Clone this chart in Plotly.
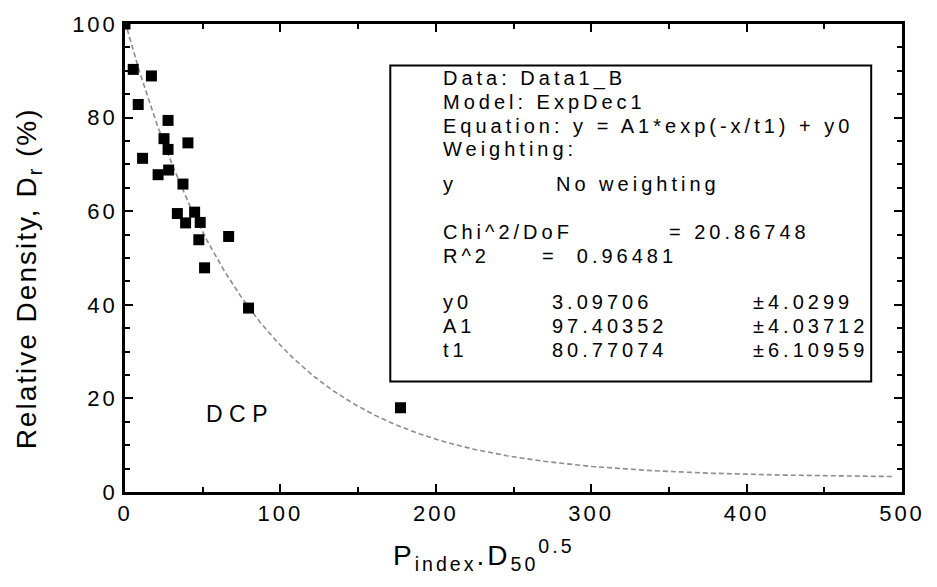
import numpy as np
import plotly.graph_objects as go

# Measured relative density against P_index * D50^0.5
p_index_d50 = [0, 5.3, 17.0, 8.5, 27.7, 25.1, 40.5, 27.7, 11.3, 28.1, 21.3, 37.3,
               33.7, 44.8, 39.0, 48.4, 47.5, 66.7, 51.2, 79.5, 177.3]
rel_density = [100, 90.3, 88.9, 82.8, 79.4, 75.5, 74.6, 73.2, 71.3, 68.8, 67.8, 65.8,
               59.5, 59.8, 57.5, 57.6, 53.9, 54.6, 47.9, 39.3, 18.0]

# ExpDec1 fit parameters
fit_y0, fit_A1, fit_t1 = 3.09706, 97.40352, 80.77074
fit_err = {"y0": "±4.0299", "A1": "±4.03712", "t1": "±6.10959"}
chi2_dof = "20.86748"
r_squared = "0.96481"

x_fit = np.linspace(0, 495, 400)
y_fit = fit_y0 + fit_A1 * np.exp(-x_fit / fit_t1)

x_ticks = [0, 100, 200, 300, 400, 500]
y_ticks = [0, 20, 40, 60, 80, 100]

FONT = "Liberation Sans, Arial, sans-serif"
W, H = 937, 587
L, R, T, B = 125, 30, 18, 95
PW, PH = W - L - R, H - T - B


def spaced(s, gap=4):
    return f'<span style="letter-spacing:{gap}px">{s}</span>'


def px(xpix):
    return (xpix - L) / PW


def py(ypix):
    return (H - B - ypix) / PH


fig = go.Figure()

fig.add_trace(go.Scatter(
    x=x_fit, y=y_fit, mode="lines",
    line=dict(color="#8c8c8c", width=1.6, dash="5px,3px"),
    hoverinfo="skip", showlegend=False,
))

fig.add_trace(go.Scatter(
    x=p_index_d50, y=rel_density, mode="markers",
    marker=dict(symbol="square", size=11, color="black"),
    showlegend=False, cliponaxis=True,
))

axis_common = dict(
    showline=True, linecolor="black", linewidth=2.5, mirror="allticks",
    ticks="inside", ticklen=8, tickwidth=2, tickcolor="black",
    showgrid=False, zeroline=False,
    tickfont=dict(family=FONT, size=22, color="black"),
)

fig.update_xaxes(
    range=[0, 500], tickmode="array", tickvals=x_ticks,
    ticktext=[spaced(str(v), 3) for v in x_ticks],
    minor=dict(dtick=50, ticks="inside", ticklen=5, tickwidth=2, tickcolor="black"),
    **axis_common,
)
fig.update_yaxes(
    range=[0, 100], tickmode="array", tickvals=y_ticks,
    ticktext=[spaced(str(v), 3) for v in y_ticks],
    minor=dict(dtick=5, ticks="inside", ticklen=5, tickwidth=2, tickcolor="black"),
    **axis_common,
)

annotations = []

# Axis titles
annotations.append(dict(
    x=px(393), y=py(556), xref="paper", yref="paper",
    text=spaced("P<sub>index</sub>.D<sub>50</sub><sup>0.5</sup>", 3),
    showarrow=False, xanchor="left", yanchor="middle",
    font=dict(family=FONT, size=28, color="black"),
))
annotations.append(dict(
    x=px(28), y=py(276), xref="paper", yref="paper",
    text=spaced("Relative Density, D<sub>r</sub> (%)", 2), textangle=-90,
    showarrow=False, xanchor="center", yanchor="middle",
    font=dict(family=FONT, size=28, color="black"),
))

# Label inside the plot
annotations.append(dict(
    x=px(205), y=py(413), xref="paper", yref="paper",
    text=spaced("DCP", 6.5), showarrow=False, xanchor="left", yanchor="middle",
    font=dict(family=FONT, size=23, color="black"),
))

# Fit report box contents: (text, x pixel, y pixel)
report = [
    ("Data: Data1_B", 443, 73),
    ("Model: ExpDec1", 443, 97),
    ("Equation: y = A1*exp(-x/t1) + y0", 443, 121),
    ("Weighting:", 443, 145),
    ("y", 443, 180),
    ("No weighting", 557, 180),
    ("Chi^2/DoF", 443, 229),
    (f"= {chi2_dof}", 670, 229),
    ("R^2", 443, 253),
    (f"=  {r_squared}", 543, 253),
    ("y0", 443, 300),
    (f"{fit_y0:.5f}", 553, 300),
    (fit_err["y0"], 755, 300),
    ("A1", 443, 324),
    (f"{fit_A1:.5f}", 553, 324),
    (fit_err["A1"], 755, 324),
    ("t1", 443, 348),
    (f"{fit_t1:.5f}", 553, 348),
    (fit_err["t1"], 755, 348),
]
for txt, xp, yp in report:
    annotations.append(dict(
        x=px(xp), y=py(yp), xref="paper", yref="paper",
        text=spaced(txt, 4), showarrow=False, xanchor="left", yanchor="middle",
        font=dict(family=FONT, size=20, color="black"),
    ))

fig.update_layout(
    width=W, height=H,
    margin=dict(l=L, r=R, t=T, b=B),
    paper_bgcolor="white", plot_bgcolor="white",
    annotations=annotations,
    shapes=[dict(
        type="rect", xref="paper", yref="paper",
        x0=px(392), x1=px(876), y0=py(380), y1=py(60),
        line=dict(color="black", width=2), fillcolor="rgba(0,0,0,0)",
    )],
)

fig.write_html("out.html")
